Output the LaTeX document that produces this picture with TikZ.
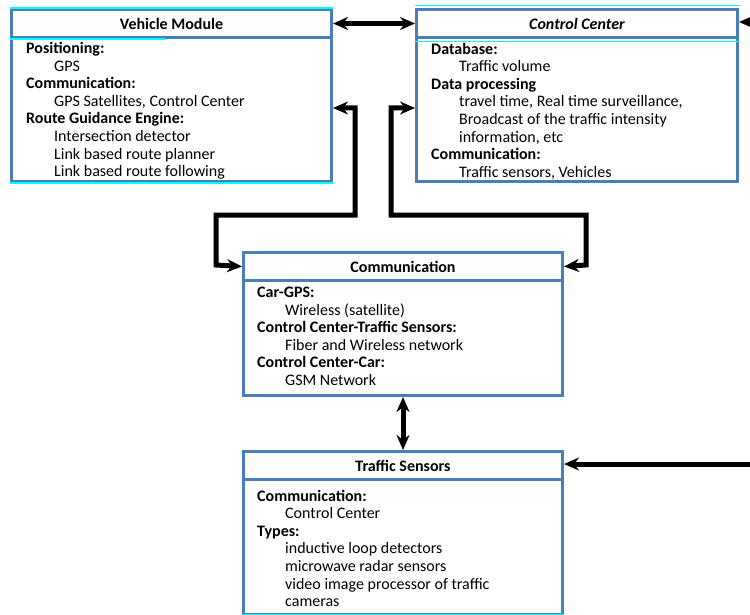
\documentclass[tikz,border=0pt]{standalone}
\usepackage{fontspec}
\setmainfont{Carlito}
\usetikzlibrary{arrows.meta}
\definecolor{boxblue}{RGB}{74,126,187}
\definecolor{cyanline}{RGB}{0,255,255}
\tikzset{
  hdr/.style={draw=boxblue, line width=3pt, anchor=north west, inner sep=0pt,
    font=\fontsize{16}{17.6}\selectfont\bfseries},
  bdy/.style={draw=boxblue, line width=3pt, anchor=north west, inner sep=0pt},
  txt/.style={anchor=north west, inner sep=0pt, align=left,
    font=\fontsize{16}{17.6}\selectfont},
  darr/.style={line width=5pt, {Stealth[length=15pt,width=13pt]}-{Stealth[length=15pt,width=13pt]}},
  sarr/.style={line width=5pt, -{Stealth[length=15pt,width=13pt]}},
  cy/.style={draw=cyanline, line width=2.5pt},
  cythin/.style={draw=cyanline, line width=1.2pt}
}
\newcommand{\ind}{\hspace*{28pt}}
\begin{document}
\begin{tikzpicture}[x=1pt,y=-1pt]
\useasboundingbox (0,0) rectangle (750,615);

% Vehicle Module
\node[hdr, minimum width=320pt, minimum height=28pt] (vmh) at (10,8) {Vehicle Module};
\node[bdy, minimum width=320pt, minimum height=144pt] (vmb) at (10,36) {};
\node[txt] (vmt) at (26,41) {\strut\textbf{Positioning:}\\
\ind GPS\\
\textbf{Communication:}\\
\ind GPS Satellites, Control Center\\
\textbf{Route Guidance Engine:}\\
\ind Intersection detector\\
\ind Link based route planner\\
\ind Link based route following};
\draw[cy] (vmh.north west) -- (vmh.north east);
\draw[cy] (vmb.south west) -- (vmb.south east);
\draw[cy] (vmh.south west) -- ++(155,0);

% Control Center
\node[hdr, minimum width=321pt, minimum height=28pt, font=\fontsize{16}{17.6}\selectfont\bfseries\itshape] (cch) at (415,8) {Control Center};
\node[bdy, minimum width=321pt, minimum height=144pt] (ccb) at (415,36) {};
\node[txt] (cct) at (431,41.5) {\strut\textbf{Database:}\\
\ind Traffic volume\\
\textbf{Data processing}\\
\ind travel time, Real time surveillance,\\
\ind Broadcast of the traffic intensity\\
\ind information, etc\\
\textbf{Communication:}\\
\ind Traffic sensors, Vehicles};
\draw[cythin] ([yshift=2.5pt]cch.north west) -- ([yshift=2.5pt]cch.north east);
\draw[cythin] ([yshift=-2.5pt]cch.south west) -- ([yshift=-2.5pt]cch.south east);

% Communication
\node[hdr, minimum width=319pt, minimum height=28pt] (cmh) at (242,251) {Communication};
\node[bdy, minimum width=319pt, minimum height=115pt] (cmb) at (242,279) {};
\node[txt] (cmt) at (257,285) {\strut\textbf{Car-GPS:}\\
\ind Wireless (satellite)\\
\textbf{Control Center-Traffic Sensors:}\\
\ind Fiber and Wireless network\\
\textbf{Control Center-Car:}\\
\ind GSM Network};

% Traffic Sensors
\node[hdr, minimum width=319pt, minimum height=28pt] (tsh) at (242,450) {Traffic Sensors};
\node[bdy, minimum width=319pt, minimum height=135pt] (tsb) at (242,478) {};
\node[txt] (tst) at (257,488.5) {\strut\textbf{Communication:}\\
\ind Control Center\\
\textbf{Types:}\\
\ind inductive loop detectors\\
\ind microwave radar sensors\\
\ind video image processor of traffic\\
\ind cameras};
\draw[cy] ([yshift=1pt]tsb.south west) -- ([yshift=1pt]tsb.south east);

% connectors
\coordinate (rin1) at (750,22);
\coordinate (rin2) at (750,464);
\draw[darr] (vmh.east) -- (cch.west |- vmh.east);
\draw[darr] (vmb.east |- 0,108) -| (355,215) -| (216,265) -- (cmh.west);
\draw[darr] (ccb.west |- 0,108) -| (391,215) -| (586,265) -- (cmh.east);
\draw[darr] (cmb.south) -- (tsh.north);
\draw[sarr] (rin1) -- (cch.east |- rin1);
\draw[sarr] (rin2) -- (tsh.east |- rin2);
\end{tikzpicture}
\end{document}
